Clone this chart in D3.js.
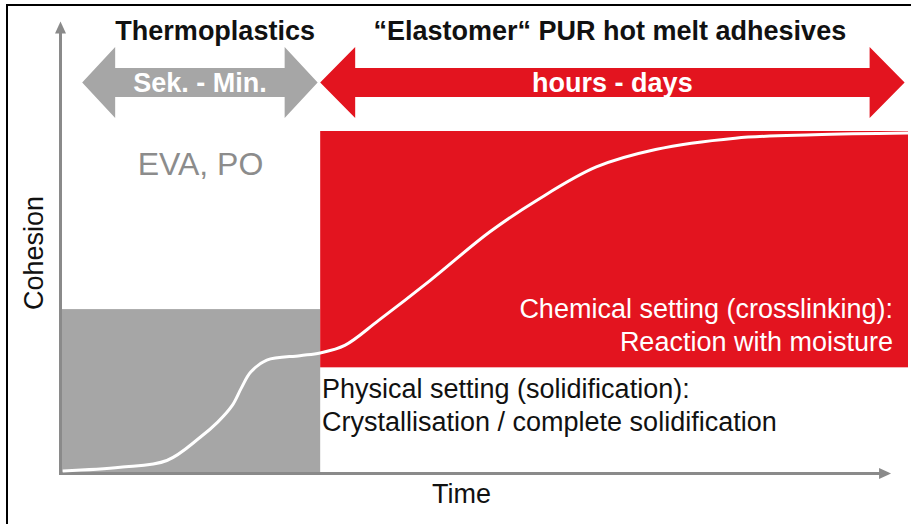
<!DOCTYPE html>
<html>
<head>
<meta charset="utf-8">
<script src="https://cdn.jsdelivr.net/npm/d3@7"></script>
<style>
  html, body { margin: 0; padding: 0; background: #fff; }
  svg { display: block; font-family: "Liberation Sans", Arial, sans-serif; }
</style>
</head>
<body>
<svg id="chart" width="911" height="524"></svg>
<script>
// ---------- DATA ----------
// Time (0-100, relative) and cohesion (0-100, relative) of the setting curve
const curveTime     = [0.2, 7, 12.5, 16.4, 18.5, 20.2, 21.3, 22.4, 24.3, 28.2, 30.6, 33.5, 37.5, 43.6, 50.6, 56.2, 63.2, 70.2, 79.6, 88.9, 100];
const curveCohesion = [0.7, 1.8, 3.8, 10.5, 15, 19.8, 25, 29.6, 33.1, 34.4, 35.2, 37.4, 44.7, 56.4, 70.5, 79.8, 89.5, 94.6, 97.9, 98.9, 99.4];

// Phases (time spans) and their headings
const phaseNames   = ["Thermoplastics", "\u201CElastomer\u201C PUR hot melt adhesives"];
const phaseRanges  = ["Sek. - Min.", "hours - days"];
const phaseStart   = [2.5, 30.6];
const phaseEnd     = [30.3, 99.6];
const phaseTitleAt = [18.2, 64.8];

// Setting zones (time span, cohesion span)
const zoneStart  = [0, 30.6];
const zoneEnd    = [30.6, 100];
const zoneLow    = [0, 31];
const zoneHigh   = [48, 100];

const axisLabels = ["Time", "Cohesion"];
const axisMax    = [98, 132];

const materialLabel = "EVA, PO";
const chemicalLines = ["Chemical setting (crosslinking):", "Reaction with moisture"];
const physicalLines = ["Physical setting (solidification):", "Crystallisation / complete solidification"];

// ---------- CHART ----------
const RED = "#e3141f", GREY = "#a6a6a6", AXIS = "#8a8a8a";
const svg = d3.select("#chart");

const x = d3.scaleLinear().domain([0, 100]).range([61, 908]);
const y = d3.scaleLinear().domain([0, 100]).range([473.5, 131]);

// frame (left + top)
svg.append("line").attr("x1", 7).attr("y1", 4).attr("x2", 7).attr("y2", 524)
  .attr("stroke", "#000").attr("stroke-width", 2);
svg.append("line").attr("x1", 6).attr("y1", 5).attr("x2", 911).attr("y2", 5)
  .attr("stroke", "#000").attr("stroke-width", 2);

// zones
const zoneFill = [GREY, RED];
svg.selectAll("rect.zone").data(zoneStart).join("rect")
  .attr("class", "zone")
  .attr("x", (d, i) => x(zoneStart[i]))
  .attr("width", (d, i) => x(zoneEnd[i]) - x(zoneStart[i]))
  .attr("y", (d, i) => y(zoneHigh[i]))
  .attr("height", (d, i) => y(zoneLow[i]) - y(zoneHigh[i]))
  .attr("fill", (d, i) => zoneFill[i]);

// axes
svg.append("line")
  .attr("x1", x(0) - 1).attr("x2", x(axisMax[0]) - 8)
  .attr("y1", y(0)).attr("y2", y(0))
  .attr("stroke", AXIS).attr("stroke-width", 3);
svg.append("path")
  .attr("d", `M${x(axisMax[0])},${y(0)} L${x(axisMax[0]) - 12},${y(0) - 5.5} L${x(axisMax[0]) - 12},${y(0) + 5.5} Z`)
  .attr("fill", AXIS);
svg.append("line")
  .attr("x1", x(0) - 0.5).attr("x2", x(0) - 0.5)
  .attr("y1", y(0) + 1.5).attr("y2", y(axisMax[1]) + 8)
  .attr("stroke", AXIS).attr("stroke-width", 3);
svg.append("path")
  .attr("d", `M${x(0) - 0.5},${y(axisMax[1])} L${x(0) - 6},${y(axisMax[1]) + 12} L${x(0) + 5},${y(axisMax[1]) + 12} Z`)
  .attr("fill", AXIS);

// curve
const pts = curveTime.map((t, i) => [t, curveCohesion[i]]);
svg.append("path")
  .datum(pts)
  .attr("d", d3.line().x(d => x(d[0])).y(d => y(d[1])).curve(d3.curveCatmullRom.alpha(0.5)))
  .attr("fill", "none").attr("stroke", "#fff").attr("stroke-width", 3);

// phase arrows
const cy = 82.5, H = 35.5, h = 14.5, headLen = [33, 35];
const arrowFill = [GREY, RED];
phaseStart.forEach((s, i) => {
  const xl = x(s), xr = x(phaseEnd[i]), hl = headLen[i];
  const p = d3.path();
  p.moveTo(xl, cy);
  p.lineTo(xl + hl, cy - H); p.lineTo(xl + hl, cy - h);
  p.lineTo(xr - hl, cy - h); p.lineTo(xr - hl, cy - H);
  p.lineTo(xr, cy);
  p.lineTo(xr - hl, cy + H); p.lineTo(xr - hl, cy + h);
  p.lineTo(xl + hl, cy + h); p.lineTo(xl + hl, cy + H);
  p.closePath();
  svg.append("path").attr("d", p.toString()).attr("fill", arrowFill[i]);
  svg.append("text").text(phaseRanges[i])
    .attr("x", (xl + xr) / 2).attr("y", cy + 9.5)
    .attr("text-anchor", "middle").attr("fill", "#fff")
    .attr("font-weight", "bold").attr("font-size", 27);
  svg.append("text").text(phaseNames[i])
    .attr("x", x(phaseTitleAt[i])).attr("y", 40)
    .attr("text-anchor", "middle").attr("fill", "#111")
    .attr("font-weight", "bold").attr("font-size", 27);
});

// material label
svg.append("text").text(materialLabel)
  .attr("x", 200.5).attr("y", 175).attr("text-anchor", "middle")
  .attr("fill", "#8c8c8c").attr("font-size", 32);

// chemical setting text
chemicalLines.forEach((t, i) => {
  svg.append("text").text(t)
    .attr("x", 893).attr("y", 318 + i * 33).attr("text-anchor", "end")
    .attr("fill", "#fff").attr("font-size", 27);
});
// physical setting text
physicalLines.forEach((t, i) => {
  svg.append("text").text(t)
    .attr("x", 322).attr("y", 398 + i * 33).attr("text-anchor", "start")
    .attr("fill", "#111").attr("font-size", 27);
});

// axis labels
svg.append("text").text(axisLabels[0])
  .attr("x", 461.5).attr("y", 503).attr("text-anchor", "middle")
  .attr("fill", "#111").attr("font-size", 27);
svg.append("text").text(axisLabels[1])
  .attr("transform", "translate(43,253) rotate(-90)")
  .attr("text-anchor", "middle").attr("fill", "#111").attr("font-size", 27);
</script>
</body>
</html>
